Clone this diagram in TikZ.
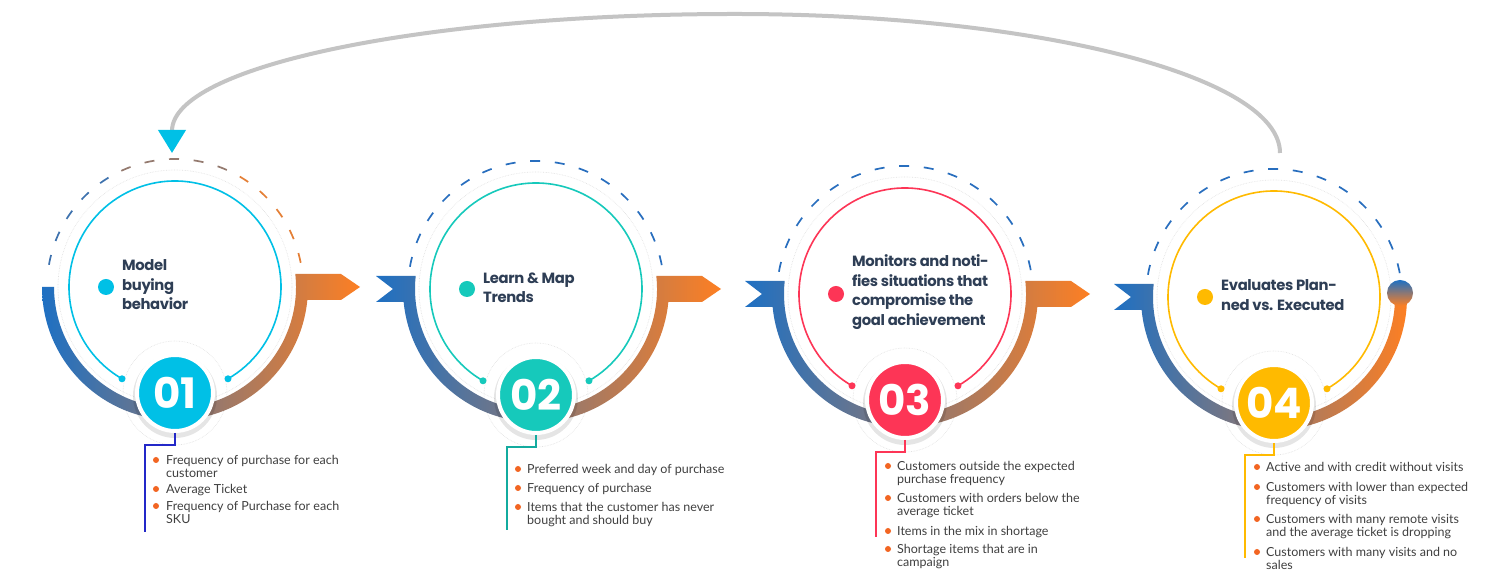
\documentclass[tikz,border=0pt]{standalone}
\usepackage{fontspec}
\setmainfont{Lato}
\newfontfamily\pop{Poppins}[LetterSpace=-2.5]
\newfontfamily\popnum{Poppins}
\usetikzlibrary{arrows.meta}

\definecolor{ringblue}{RGB}{30,112,195}
\definecolor{ringorange}{RGB}{253,127,35}
\definecolor{dashblue}{RGB}{40,110,190}
\definecolor{stepcyan}{RGB}{0,192,230}
\definecolor{stepteal}{RGB}{22,201,187}
\definecolor{stepred}{RGB}{253,53,86}
\definecolor{stepyellow}{RGB}{255,186,0}
\definecolor{lineblue}{RGB}{35,40,200}
\definecolor{headtext}{RGB}{46,62,85}
\definecolor{bodytext}{RGB}{64,64,64}
\definecolor{bulletorange}{RGB}{242,101,34}
\definecolor{loopgray}{RGB}{196,196,196}

\tikzset{
  ring/.style={left color=ringblue, right color=ringorange},
  dashring/.style={line width=1.7pt, dash pattern=on 10pt off 14.7pt},
  halo/.style={draw=black!12, densely dotted, line width=0.6pt},
  innerarc/.style={line width=1.6pt},
  badge/.style={circle, fill=#1, draw=white, line width=4pt, minimum size=76pt,
    inner sep=0pt, text=white, font=\popnum\bfseries\fontsize{42}{42}\selectfont},
  headline/.style={anchor=west, align=left, inner sep=0pt, text=headtext,
    font=\pop\bfseries\fontsize{14.8}{19.5}\selectfont},
  itemtext/.style={anchor=north west, align=left, inner sep=0pt, text=bodytext,
    font=\fontsize{12.5}{13.5}\selectfont},
  bullet/.style={fill=bulletorange},
  leader/.style={line width=2pt},
}

\begin{document}
\begin{tikzpicture}[x=1pt, y=1pt]
    \path[use as bounding box, fill=white] (0,0) rectangle (1500,577);

    % Step 1
    \begin{scope}[shift={(175,290)}]
        \draw[halo] (0,0) circle (117);
        \draw[halo] (0,-106) circle (52);
        \draw[dashring, draw=dashblue!75!gray] (170:128) arc[start angle=170, end angle=114.8, radius=128];
        \draw[dashring, draw=ringblue!45!ringorange!80!gray] (114.8:128) arc[start angle=114.8, end angle=59.6, radius=128];
        \draw[dashring, draw=ringorange!80!gray] (59.6:128) arc[start angle=59.6, end angle=10, radius=128];
        \shade[ring] (-133,0) arc[start angle=180, end angle=354.39, radius=133] -- (166,-13) -- (185,0) -- (166,13)
            -- (120.3,13) arc[start angle=6.17, end angle=-180, radius=121] -- cycle;
        \draw[innerarc, stepcyan] (-60:106) arc[start angle=-60, end angle=240, radius=106];
        \fill[stepcyan] (-60:106) circle (3.5) (240:106) circle (3.5);
        \fill[black, opacity=0.1] (0,-109) circle (42);
        \node[badge=stepcyan] (b1) at (0,-106) {01};
        \fill[stepcyan] (-69,0) circle (8);
        \node[headline] (t1) at (-53,2) {Model\\buying\\behavior};
        \coordinate (e1) at (-30,-245);
        \draw[leader, lineblue] (b1.south) -- ++(0,-12) -| (e1);
        \fill[bullet] (-19,-173) circle (3);
        \node[itemtext] (i11) at (-9,-167.4) {\strut Frequency of purchase for each\\customer};
        \fill[bullet] (-19,-202) circle (3);
        \node[itemtext] (i12) at (-9,-196.4) {\strut Average Ticket};
        \fill[bullet] (-19,-219) circle (3);
        \node[itemtext] (i13) at (-9,-213.4) {\strut Frequency of Purchase for each\\SKU};
    \end{scope}

    % Step 2
    \begin{scope}[shift={(536,288)}]
        \draw[halo] (0,0) circle (117);
        \draw[halo] (0,-106) circle (52);
        \draw[dashring, draw=dashblue] (170:128) arc[start angle=170, end angle=10, radius=128];
        \shade[ring] (-160,13) -- (-143,0) -- (-160,-13) -- (-132.36,-13) arc[start angle=185.61, end angle=354.39, radius=133]
            -- (166,-13) -- (185,0) -- (166,13) -- (120.3,13) arc[start angle=6.17, end angle=-186.17, radius=121] -- cycle;
        \draw[innerarc, stepteal] (-60:106) arc[start angle=-60, end angle=240, radius=106];
        \fill[stepteal] (-60:106) circle (3.5) (240:106) circle (3.5);
        \fill[black, opacity=0.1] (0,-109) circle (42);
        \node[badge=stepteal] (b2) at (0,-106) {02};
        \fill[stepteal] (-69,0) circle (8);
        \node[headline] (t2) at (-53,1) {Learn \& Map\\Trends};
        \coordinate (e2) at (-29,-241);
        \draw[leader, stepteal!85!black] (b2.south) -- ++(0,-12) -| (e2);
        \fill[bullet] (-18,-180) circle (3);
        \node[itemtext] (i21) at (-9,-174.4) {\strut Preferred week and day of purchase};
        \fill[bullet] (-18,-199) circle (3);
        \node[itemtext] (i22) at (-9,-193.4) {\strut Frequency of purchase};
        \fill[bullet] (-18,-218) circle (3);
        \node[itemtext] (i23) at (-9,-212.4) {\strut Items that the customer has never\\bought and should buy};
    \end{scope}

    % Step 3
    \begin{scope}[shift={(905,283)}]
        \draw[halo] (0,0) circle (117);
        \draw[halo] (0,-106) circle (52);
        \draw[dashring, draw=dashblue] (170:128) arc[start angle=170, end angle=10, radius=128];
        \shade[ring] (-160,13) -- (-143,0) -- (-160,-13) -- (-132.36,-13) arc[start angle=185.61, end angle=354.39, radius=133]
            -- (166,-13) -- (185,0) -- (166,13) -- (120.3,13) arc[start angle=6.17, end angle=-186.17, radius=121] -- cycle;
        \draw[innerarc, stepred] (-60:106) arc[start angle=-60, end angle=240, radius=106];
        \fill[stepred] (-60:106) circle (3.5) (240:106) circle (3.5);
        \fill[black, opacity=0.1] (0,-109) circle (42);
        \node[badge=stepred] (b3) at (0,-106) {03};
        \fill[stepred] (-69,0) circle (8);
        \node[headline] (t3) at (-53,2) {Monitors and noti-\\fies situations that\\compromise the\\goal achievement};
        \coordinate (e3) at (-29,-243);
        \draw[leader, stepred] (b3.south) -- ++(0,-12) -| (e3);
        \fill[bullet] (-17,-172) circle (3);
        \node[itemtext] (i31) at (-8,-166.4) {\strut Customers outside the expected\\purchase frequency};
        \fill[bullet] (-17,-204) circle (3);
        \node[itemtext] (i32) at (-8,-198.4) {\strut Customers with orders below the\\average ticket};
        \fill[bullet] (-17,-237) circle (3);
        \node[itemtext] (i33) at (-8,-231.4) {\strut Items in the mix in shortage};
        \fill[bullet] (-17,-255) circle (3);
        \node[itemtext] (i34) at (-8,-249.4) {\strut Shortage items that are in\\campaign};
    \end{scope}

    % Step 4
    \begin{scope}[shift={(1274,280)}]
        \draw[halo] (0,0) circle (117);
        \draw[halo] (0,-106) circle (52);
        \draw[dashring, draw=dashblue] (170:128) arc[start angle=170, end angle=10, radius=128];
        \shade[ring] (-160,13) -- (-143,0) -- (-160,-13) -- (-132.36,-13) arc[start angle=185.61, end angle=360, radius=133]
            -- (121,0) arc[start angle=0, end angle=-186.17, radius=121] -- cycle;
        \shade[top color=ringblue, bottom color=ringorange] (126,4) circle (13);
        \draw[innerarc, stepyellow] (-60:106) arc[start angle=-60, end angle=240, radius=106];
        \fill[stepyellow] (-60:106) circle (3.5) (240:106) circle (3.5);
        \fill[black, opacity=0.1] (0,-109) circle (42);
        \node[badge=stepyellow] (b4) at (0,-106) {04};
        \fill[stepyellow] (-69,0) circle (8);
        \node[headline] (t4) at (-53,2) {Evaluates Plan-\\ned vs. Executed};
        \coordinate (e4) at (-29,-261);
        \draw[leader, stepyellow] (b4.south) -- ++(0,-12) -| (e4);
        \fill[bullet] (-17,-170) circle (3);
        \node[itemtext] (i41) at (-8,-164.4) {\strut Active and with credit without visits};
        \fill[bullet] (-17,-190) circle (3);
        \node[itemtext] (i42) at (-8,-184.4) {\strut Customers with lower than expected\\frequency of visits};
        \fill[bullet] (-17,-222) circle (3);
        \node[itemtext] (i43) at (-8,-216.4) {\strut Customers with many remote visits\\and the average ticket is dropping};
        \fill[bullet] (-17,-255) circle (3);
        \node[itemtext] (i44) at (-8,-249.4) {\strut Customers with many visits and no\\sales};
    \end{scope}

    % Loop back from step 4 to step 1
    \coordinate (loopstart) at (1280,424);
    \coordinate (looptop) at (735,563);
    \coordinate (loopend) at (172,424);
    \draw[loopgray, line width=4pt, -{Triangle[width=27pt, length=23pt, color=stepcyan]}]
        (loopstart) .. controls (1280,501) and (1036,563) .. (looptop)
        .. controls (425,563) and (172,511) .. (loopend);
\end{tikzpicture}
\end{document}
